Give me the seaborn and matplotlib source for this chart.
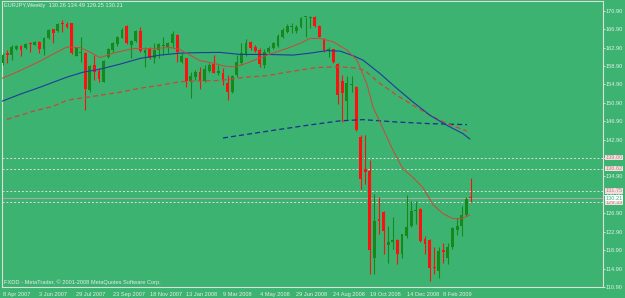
import matplotlib
matplotlib.use("Agg")
import matplotlib.pyplot as plt
import seaborn as sns
import numpy as np
import pandas as pd

# ---------------- data ----------------
opens = [159.44, 161.75, 161.25, 162.55, 163.27, 162.71, 163.80, 163.49, 164.08, 162.49,
         165.02, 166.85, 166.54, 168.15, 168.00, 168.15, 161.09, 161.71, 161.75, 153.62,
         159.07, 157.70, 155.43, 160.88, 162.34, 163.58, 165.02, 167.57, 163.43, 164.36,
         166.48, 161.62, 162.49, 160.53, 162.34, 163.21, 163.06, 163.80, 165.60, 159.79,
         160.53, 155.58, 156.52, 157.61, 155.58, 157.76, 159.22, 157.26, 157.39, 155.21,
         153.25, 156.89, 159.44, 161.47, 164.01, 163.06, 162.34, 159.07, 161.97, 162.71,
         163.27, 165.10, 166.32, 167.41, 166.48, 167.41, 169.46, 169.37, 169.59, 167.57,
         164.67, 162.18, 162.49, 159.29, 155.65, 151.29, 154.71, 154.34, 143.45, 136.56,
         136.19, 117.30, 125.67, 127.11, 120.07, 120.57, 121.16, 118.04, 121.88, 124.06,
         127.48, 127.85, 121.31, 121.16, 115.21, 114.41, 118.87, 117.30, 119.48, 123.27,
         124.21, 126.50, 130.26]
highs = [161.62, 162.34, 163.43, 163.49, 163.49, 163.80, 164.01, 164.30, 164.36, 165.23,
         166.85, 166.95, 168.15, 168.87, 168.44, 168.28, 163.06, 165.23, 161.90, 159.07,
         161.25, 158.35, 160.16, 162.71, 164.15, 165.39, 167.06, 167.78, 164.52, 166.69,
         167.41, 163.06, 163.06, 163.80, 163.80, 165.23, 164.15, 166.54, 165.80, 161.62,
         160.70, 157.61, 157.98, 158.70, 159.07, 159.44, 161.25, 159.07, 158.35, 156.89,
         157.04, 161.25, 163.80, 164.67, 164.36, 163.43, 162.71, 162.49, 163.21, 164.15,
         165.76, 167.06, 167.94, 168.15, 167.78, 169.46, 169.59, 169.74, 169.74, 167.78,
         164.89, 162.92, 162.60, 159.44, 156.89, 156.67, 156.67, 154.50, 143.82, 144.00,
         138.37, 131.12, 130.38, 127.40, 124.21, 126.02, 121.30, 122.50, 130.96, 129.66,
         129.66, 128.10, 122.03, 121.30, 119.48, 119.48, 120.51, 120.35, 123.84, 125.84,
         128.57, 130.38, 134.49]
lows = [159.07, 159.44, 160.16, 162.34, 161.03, 162.49, 161.97, 163.36, 161.62, 161.25,
        164.80, 163.93, 166.32, 166.32, 167.10, 161.53, 161.03, 159.79, 149.26, 153.25,
        155.80, 155.43, 155.43, 160.53, 161.97, 163.21, 164.89, 163.64, 160.53, 164.15,
        161.97, 158.57, 160.31, 159.44, 160.53, 161.25, 161.62, 163.06, 159.79, 159.44,
        154.34, 152.03, 155.80, 153.99, 155.43, 157.61, 157.26, 156.89, 154.71, 151.60,
        153.03, 156.52, 159.07, 161.09, 162.34, 161.97, 158.57, 158.35, 161.75, 162.49,
        163.06, 164.89, 166.11, 165.98, 165.98, 167.06, 165.23, 167.06, 167.41, 165.10,
        161.97, 160.88, 159.44, 150.72, 146.72, 147.09, 153.25, 144.70, 132.21, 133.30,
        113.69, 113.69, 122.40, 118.04, 116.21, 119.13, 115.87, 117.30, 121.60, 123.84,
        124.58, 120.70, 118.04, 112.23, 113.69, 112.95, 116.15, 115.93, 119.13, 122.25,
        122.03, 126.30, 129.25]
closes = [161.25, 161.31, 162.92, 163.27, 162.34, 163.58, 163.58, 164.08, 162.49, 165.02,
          166.69, 166.11, 168.00, 167.94, 167.28, 161.75, 162.92, 161.90, 153.84, 158.92,
          157.48, 156.02, 159.94, 162.49, 163.80, 165.10, 166.69, 163.80, 164.30, 166.48,
          162.18, 162.34, 160.53, 162.34, 163.58, 163.49, 163.86, 165.82, 161.97, 161.03,
          155.58, 156.67, 157.61, 155.58, 158.13, 159.07, 157.39, 157.76, 155.58, 153.25,
          156.82, 159.79, 161.62, 163.80, 162.71, 162.18, 159.29, 161.97, 162.84, 163.93,
          165.45, 166.69, 167.57, 167.63, 167.35, 169.24, 169.59, 169.59, 167.57, 165.23,
          162.34, 162.49, 159.72, 152.53, 153.12, 155.21, 154.93, 144.91, 134.38, 135.82,
          118.92, 125.30, 125.30, 123.12, 120.57, 121.16, 118.04, 122.40, 123.84, 127.48,
          127.70, 120.94, 120.22, 115.13, 114.99, 118.76, 118.44, 119.48, 123.62, 124.21,
          126.50, 130.03, 130.21]

# moving averages (bar index, price)
ma_red_idx = [-0.58, 3.78, 8.13, 10.97, 13.95, 16.85, 18.59, 21.2, 24.04, 28.4, 32.75, 36.45,
              38.6, 40.16, 42.99, 45.82, 48.44, 50.6, 53.23, 57.59, 61.95, 64.78, 66.96,
              69.14, 71.97, 75.02, 77.2, 79.37, 80.68, 82.86, 85.04, 87.22, 89.4, 91.57,
              93.75, 95.93, 98.1, 100.28, 101.8]
ma_red_val = [156.02, 157.87, 159.94, 161.47, 162.99, 162.88, 162.12, 160.70, 161.68, 162.66,
              162.66, 162.92, 162.49, 161.62, 160.05, 159.50, 158.85, 158.70, 159.50, 161.25,
              162.71, 163.80, 164.89, 164.89, 164.15, 162.34, 160.16, 154.93, 149.98, 145.28,
              140.55, 136.56, 134.67, 132.49, 128.79, 126.82, 125.74, 125.84, 126.50]
ma_blue_idx = [-0.58, 3.78, 8.13, 13.95, 17.5, 21.2, 25.56, 29.92, 34.28, 38.63, 42.99, 47.35,
               51.7, 57.59, 63.25, 66.96, 70.66, 73.49, 76.32, 78.5, 82.2, 85.91, 89.4, 93.1,
               96.8, 100.29, 101.8]
ma_blue_val = [151.07, 152.75, 154.28, 156.45, 157.54, 158.20, 159.29, 160.53, 161.25, 161.68,
               161.79, 161.84, 161.40, 161.40, 161.25, 161.68, 162.23, 162.12, 161.14, 160.16,
               157.26, 153.99, 151.07, 148.18, 146.00, 144.19, 143.01]
ma_reddash_idx = [0.95, 6.61, 10.97, 14.02, 16.85, 21.2, 25.56, 29.92, 34.28, 38.63, 42.99,
                  47.35, 52.8, 57.59, 63.25, 68.48, 73.49, 77.2, 78.94, 82.2, 85.91, 89.4,
                  93.1, 96.8, 101.16]
ma_reddash_val = [147.30, 149.05, 150.14, 151.44, 151.88, 152.53, 153.19, 154.06, 154.71,
                  155.47, 155.65, 155.74, 156.45, 156.78, 157.76, 158.57, 158.70, 158.42,
                  157.87, 155.08, 152.53, 150.35, 148.18, 146.37, 144.76]
ma_bluedash_idx = [48.0, 51.7, 58.9, 66.3, 73.49, 78.5, 85.91, 93.1, 101.16]
ma_bluedash_val = [143.26, 143.82, 144.91, 146.00, 146.98, 147.24, 146.72, 146.37, 146.15]

level_lines = [139.00, 136.62, 131.75, 129.33]
bid_price = 130.21

xtick_idx = [0, 8, 16, 24, 32, 40, 48, 56, 64, 72, 80, 88, 96]
xtick_labels = ["8 Apr 2007", "3 Jun 2007", "29 Jul 2007", "23 Sep 2007", "18 Nov 2007",
                "13 Jan 2008", "9 Mar 2008", "4 May 2008", "29 Jun 2008", "24 Aug 2008",
                "19 Oct 2008", "14 Dec 2008", "8 Feb 2009"]
ytick_vals = [170.90, 166.90, 162.90, 158.90, 154.90, 150.90, 146.90, 142.90, 138.90,
              134.90, 130.90, 126.90, 122.90, 118.90, 114.90, 110.90]

title_text = "EURJPY,Weekly  130.26 134.49 129.25 130.21"
footer_text = "FXDD - MetaTrader, \u00a9 2001-2008 MetaQuotes Software Corp."

# ---------------- style ----------------
BG = "#3cb371"
FG = "#e6eee6"
BULL = "#17881a"
BEAR = "#ff1010"
FS = 4.1

sns.set_theme(style="white")
plt.rcParams["font.family"] = ["Liberation Sans", "DejaVu Sans"]

fig = plt.figure(figsize=(6.25, 2.98), dpi=100)
fig.patch.set_facecolor(BG)
ax = fig.add_axes([2 / 625, 11 / 298, 601 / 625, 286 / 298])
ax.set_facecolor(BG)

df = pd.DataFrame({"i": np.arange(len(opens)), "o": opens, "h": highs, "l": lows, "c": closes})
df["bull"] = df["c"] >= df["o"]

for bull, col in [(True, BULL), (False, BEAR)]:
    d = df[df["bull"] == bull]
    ax.vlines(d["i"], d["l"], d["h"], color=col, lw=0.8, zorder=3)
    body = (d["c"] - d["o"]).abs().clip(lower=0.2)
    ax.bar(d["i"], body, bottom=np.minimum(d["o"], d["c"]), width=0.62,
           color=col, lw=0, zorder=4)

sns.lineplot(x=ma_bluedash_idx, y=ma_bluedash_val, ax=ax, color="#1c2e8c", lw=0.9,
             linestyle=(0, (4, 2.5)), zorder=5)
sns.lineplot(x=ma_reddash_idx, y=ma_reddash_val, ax=ax, color="#c8483a", lw=0.9,
             linestyle=(0, (4, 2.5)), zorder=5)
sns.lineplot(x=ma_blue_idx, y=ma_blue_val, ax=ax, color="#203c9a", lw=0.8, zorder=5)
sns.lineplot(x=ma_red_idx, y=ma_red_val, ax=ax, color="#d2443a", lw=0.7, zorder=6)

for lv in level_lines:
    ax.axhline(lv, color="#e4dada", lw=0.7, ls=(0, (2, 2)), zorder=2)
ax.axhline(bid_price, color="#a9a9a9", lw=0.8, zorder=2)

ax.set_xlim(-0.146, 130.79)
ax.set_ylim(110.9, 173.0)

ax.yaxis.tick_right()
ax.set_yticks(ytick_vals)
ax.set_yticklabels([f"{v:.2f}" for v in ytick_vals])
ax.set_xticks(xtick_idx)
ax.set_xticklabels(xtick_labels, ha="left")
ax.tick_params(axis="both", colors=FG, labelcolor=FG, labelsize=FS, length=1.6,
               width=0.6, pad=0.6, direction="out")
ax.tick_params(axis="x", length=2.2, pad=1.2)
for sp in ax.spines.values():
    sp.set_color("#d8e0d8")
    sp.set_linewidth(0.8)

trans = ax.get_yaxis_transform()
for lv in level_lines:
    ax.text(1.004, lv, f"{lv:.2f}", transform=trans, ha="left", va="center",
            fontsize=FS, color="#b88888", clip_on=False, zorder=10,
            bbox=dict(boxstyle="square,pad=0.02", fc="#f3dcdc", ec="none"))
ax.text(1.004, bid_price, f"{bid_price:.2f}", transform=trans, ha="left", va="center",
        fontsize=FS, color=BG, clip_on=False, zorder=11,
        bbox=dict(boxstyle="square,pad=0.02", fc="#ffffff", ec="none"))

fig.text(4 / 625, 1 - 6 / 298, title_text, ha="left", va="center", fontsize=FS, color=FG)
ax.text(0.003, 0.008, footer_text, transform=ax.transAxes, ha="left", va="bottom",
        fontsize=FS, color=FG)

fig.savefig("out.png", dpi=100, facecolor=BG)
